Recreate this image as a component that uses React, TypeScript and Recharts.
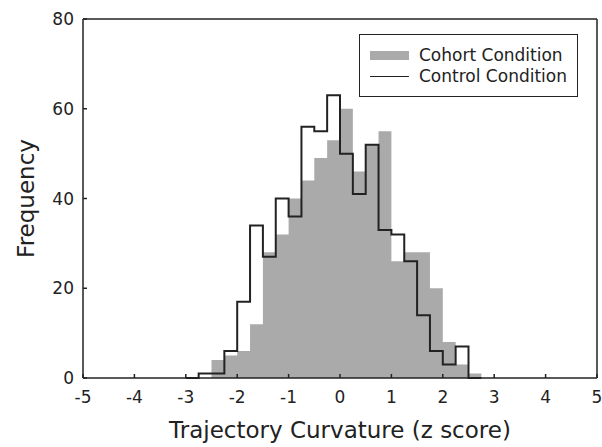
import { Area, ComposedChart, Legend, Line, ReferenceLine, XAxis, YAxis } from "recharts";

// histogram bins, 0.25 wide, keyed by left edge
const binStarts = [
  -3, -2.75, -2.5, -2.25, -2, -1.75, -1.5, -1.25, -1, -0.75, -0.5, -0.25,
  0, 0.25, 0.5, 0.75, 1, 1.25, 1.5, 1.75, 2, 2.25, 2.5, 2.75,
];
const cohort = [0, 0, 4, 5, 6, 12, 28, 32, 40, 44, 49, 53, 60, 46, 52, 55, 26, 28, 28, 20, 8, 3, 1, 0];
const control = [0, 1, 1, 6, 17, 34, 27, 40, 36, 56, 55, 63, 50, 41, 52, 33, 32, 26, 14, 6, 3, 7, 0, 0];

const xTicks = [-5, -4, -3, -2, -1, 0, 1, 2, 3, 4, 5];
const yTicks = [0, 20, 40, 60, 80];

const cohortName = "Cohort Condition";
const controlName = "Control Condition";

const FONT = "'DejaVu Sans', Verdana, sans-serif";
const INK = "#222";
const GRAY = "#aaaaaa";

const data = binStarts.map((x, i) => ({ x, cohort: cohort[i], control: control[i] }));

function LegendBox() {
  return (
    <div
      style={{
        border: `1.5px solid ${INK}`,
        background: "#fff",
        padding: "10px 0 0 10px",
        fontFamily: FONT,
        fontSize: 17,
        color: INK,
        lineHeight: "21px",
        boxSizing: "border-box",
        height: 63,
        whiteSpace: "nowrap",
      }}
    >
      <div style={{ display: "flex", alignItems: "center" }}>
        <span style={{ width: 39, height: 9, background: GRAY, marginRight: 10 }} />
        {cohortName}
      </div>
      <div style={{ display: "flex", alignItems: "center" }}>
        <span style={{ width: 39, height: 0, borderTop: `1.5px solid ${INK}`, marginRight: 10 }} />
        {controlName}
      </div>
    </div>
  );
}

function YTitle({ viewBox }: any) {
  const cx = 26;
  const cy = viewBox.y + viewBox.height / 2;
  return (
    <text
      x={cx}
      y={cy}
      transform={`rotate(-90 ${cx} ${cy})`}
      textAnchor="middle"
      dominantBaseline="central"
      fontFamily={FONT}
      fontSize={23}
      fill={INK}
    >
      Frequency
    </text>
  );
}

export default function App() {
  return (
    <div style={{ position: "absolute", left: 0, top: 0, background: "#fff" }}>
      <ComposedChart width={602} height={447} data={data} margin={{ top: 19, right: 5, bottom: 0, left: 0 }}>
        <XAxis
          dataKey="x"
          type="number"
          domain={[-5, 5]}
          ticks={xTicks}
          interval={0}
          height={69}
          tickSize={-4}
          tickMargin={17}
          stroke={INK}
          strokeWidth={1.5}
          tick={{ fill: INK, fontSize: 17, fontFamily: FONT }}
          label={{
            value: "Trajectory Curvature (z score)",
            position: "insideBottom",
            offset: 9,
            fill: INK,
            fontSize: 23,
            fontFamily: FONT,
          }}
        />
        <YAxis
          type="number"
          domain={[0, 80]}
          ticks={yTicks}
          interval={0}
          width={83}
          tickSize={-4}
          tickMargin={13}
          stroke={INK}
          strokeWidth={1.5}
          tick={{ fill: INK, fontSize: 17, fontFamily: FONT }}
          label={{ value: "Frequency", content: YTitle }}
        />
        <ReferenceLine y={80} stroke={INK} strokeWidth={1.5} />
        <ReferenceLine x={5} stroke={INK} strokeWidth={1.5} />
        <Area
          type="stepAfter"
          dataKey="cohort"
          name={cohortName}
          fill={GRAY}
          fillOpacity={1}
          stroke="none"
          isAnimationActive={false}
        />
        <Line
          type="stepAfter"
          dataKey="control"
          name={controlName}
          stroke={INK}
          strokeWidth={2}
          dot={false}
          activeDot={false}
          isAnimationActive={false}
        />
        <Legend
          layout="vertical"
          align="center"
          verticalAlign="middle"
          content={LegendBox}
          wrapperStyle={{ top: 34, left: 359, width: 219, height: 63 }}
        />
      </ComposedChart>
    </div>
  );
}
